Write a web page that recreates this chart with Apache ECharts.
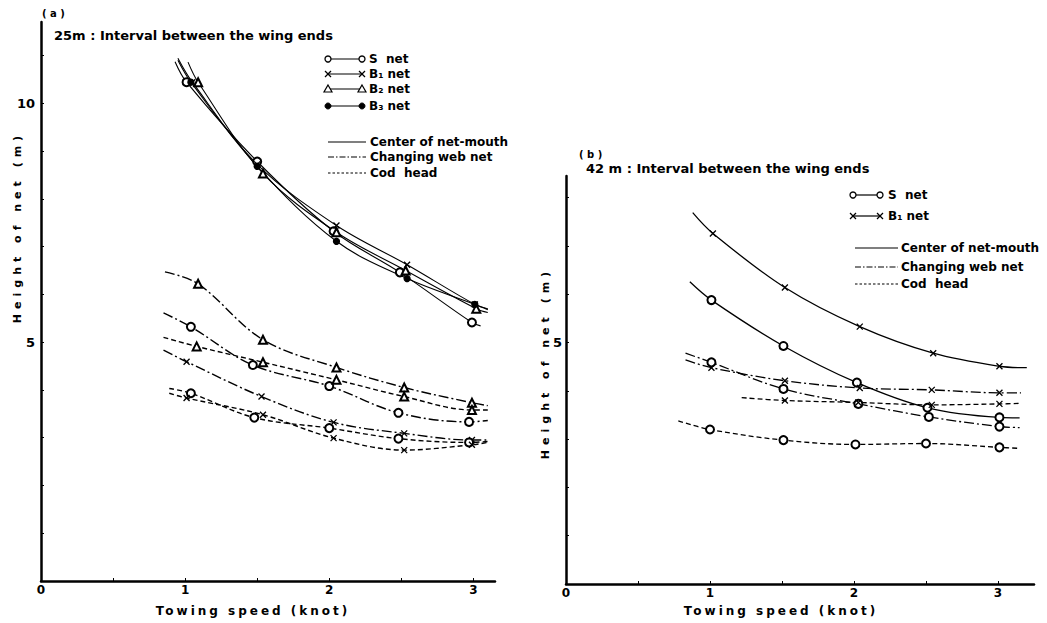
<!DOCTYPE html>
<html>
<head>
<meta charset="utf-8">
<script src="https://cdn.jsdelivr.net/npm/echarts@6/dist/echarts.min.js"></script>
<style>
html,body{margin:0;padding:0;background:#fff;}
#c{width:1047px;height:623px;}
</style>
</head>
<body>
<div id="c"></div>
<script>
// ================= DATA =================
// tick labels
const xTickLabels = ['0', '1', '2', '3'];
const yTickLabelsA = ['5', '10'];
const yTickLabelsB = ['5'];

// ---- Panel (a): 25 m interval between the wing ends ----
// Center of net-mouth (solid)
const a_S_mouth_x  = [1.01, 1.50, 2.03, 2.49, 2.99];
const a_S_mouth_y  = [10.44, 8.78, 7.32, 6.46, 5.41];
const a_S_mouth_ends = [[0.93, 10.87], [3.05, 5.34]];
const a_B1_mouth_x = [1.05, 1.50, 2.05, 2.54, 3.01];
const a_B1_mouth_y = [10.44, 8.72, 7.44, 6.62, 5.79];
const a_B1_mouth_ends = [[0.95, 10.94], [3.10, 5.70]];
const a_B2_mouth_x = [1.09, 1.54, 2.05, 2.53, 3.02];
const a_B2_mouth_y = [10.44, 8.53, 7.30, 6.50, 5.70];
const a_B2_mouth_ends = [[1.02, 10.86], [3.10, 5.62]];
const a_B3_mouth_x = [1.04, 1.50, 2.05, 2.54, 3.01];
const a_B3_mouth_y = [10.44, 8.68, 7.11, 6.33, 5.79];
const a_B3_mouth_ends = [[0.95, 10.90], [3.10, 5.68]];
// Changing web net (dash-dot)
const a_B2_web_x = [1.09, 1.54, 2.05, 2.52, 2.99];
const a_B2_web_y = [6.22, 5.05, 4.47, 4.05, 3.73];
const a_B2_web_ends = [[0.86, 6.47], [3.10, 3.67]];
const a_S_web_x  = [1.04, 1.47, 2.00, 2.48, 2.97];
const a_S_web_y  = [5.32, 4.52, 4.08, 3.52, 3.33];
const a_S_web_ends = [[0.85, 5.61], [3.10, 3.36]];
const a_B1_web_x = [1.01, 1.53, 2.03, 2.52, 2.99];
const a_B1_web_y = [4.59, 3.86, 3.32, 3.09, 2.95];
const a_B1_web_ends = [[0.85, 4.83], [3.10, 2.95]];
// Cod head (dashed)
const a_B2_cod_x = [1.08, 1.54, 2.05, 2.52, 2.99];
const a_B2_cod_y = [4.91, 4.58, 4.21, 3.86, 3.58];
const a_B2_cod_ends = [[0.85, 5.10], [3.10, 3.58]];
const a_S_cod_x  = [1.04, 1.48, 2.00, 2.48, 2.97];
const a_S_cod_y  = [3.93, 3.42, 3.20, 2.98, 2.90];
const a_S_cod_ends = [[0.89, 4.03], [3.10, 2.92]];
const a_B1_cod_x = [1.01, 1.54, 2.03, 2.52, 2.99];
const a_B1_cod_y = [3.83, 3.48, 2.99, 2.74, 2.85];
const a_B1_cod_ends = [[0.89, 3.93], [3.10, 2.90]];

// ---- Panel (b): 42 m interval between the wing ends ----
const b_S_mouth_x  = [1.01, 1.51, 2.02, 2.51, 3.01];
const b_S_mouth_y  = [5.88, 4.93, 4.17, 3.65, 3.45];
const b_S_mouth_ends = [[0.86, 6.26], [3.15, 3.44]];
const b_B1_mouth_x = [1.02, 1.52, 2.04, 2.55, 3.01];
const b_B1_mouth_y = [7.26, 6.14, 5.33, 4.78, 4.51];
const b_B1_mouth_ends = [[0.88, 7.69], [3.20, 4.48]];
const b_S_web_x  = [1.01, 1.51, 2.03, 2.52, 3.01];
const b_S_web_y  = [4.59, 4.04, 3.73, 3.46, 3.26];
const b_S_web_ends = [[0.83, 4.78], [3.15, 3.24]];
const b_B1_web_x = [1.01, 1.52, 2.04, 2.54, 3.01];
const b_B1_web_y = [4.48, 4.21, 4.06, 4.02, 3.96];
const b_B1_web_ends = [[0.83, 4.64], [3.16, 3.96]];
const b_S_cod_x  = [1.00, 1.51, 2.01, 2.50, 3.01];
const b_S_cod_y  = [3.20, 2.98, 2.89, 2.91, 2.83];
const b_S_cod_ends = [[0.78, 3.38], [3.14, 2.81]];
const b_B1_cod_x = [1.52, 2.03, 2.54, 3.01];
const b_B1_cod_y = [3.80, 3.76, 3.71, 3.73];
const b_B1_cod_ends = [[1.22, 3.86], [3.15, 3.74]];

// text
const titleA = '25m : Interval between the wing ends';
const titleB = '42 m : Interval between the wing ends';
const panelA = '( a )';
const panelB = '( b )';
const xName = 'Towing speed (knot)';
const yName = 'Height of net (m)';
const legendNets = ['S  net', 'B\u2081 net', 'B\u2082 net', 'B\u2083 net'];
const legendParts = ['Center of net-mouth', 'Changing web net', 'Cod  head'];

// ================= STYLE =================
const FONT = '"DejaVu Sans", "Liberation Sans", sans-serif';
const DASH_WEB = [10, 3, 2, 3];
const DASH_COD = [5, 3];
const SYM = {
  o: {symbol: 'emptyCircle', size: 8, fill: '#000'},
  x: {symbol: 'path://M0,0L10,10M10,0L0,10', size: 6, fill: 'none'},
  t: {symbol: 'emptyTriangle', size: 8, fill: '#000'},
  d: {symbol: 'circle', size: 6, fill: '#000'}
};

function curve(name, xs, ys, ends, g, symKey, dash, width) {
  const s = SYM[symKey];
  const data = [{value: ends[0], symbol: 'none'}];
  xs.forEach((x, i) => data.push([x, ys[i]]));
  data.push({value: ends[1], symbol: 'none'});
  return {
    type: 'line', name: name, xAxisIndex: g, yAxisIndex: g,
    data: data, smooth: 0.35, symbol: s.symbol, symbolSize: s.size,
    showSymbol: true, showAllSymbol: true, animation: false, silent: true,
    lineStyle: {color: '#000', width: width, type: dash},
    itemStyle: {color: s.fill === 'none' ? '#000' : s.fill, borderColor: '#000', borderWidth: 1.3}
  };
}

const series = [
  curve('a S mouth', a_S_mouth_x, a_S_mouth_y, a_S_mouth_ends, 0, 'o', 'solid', 1.1),
  curve('a B1 mouth', a_B1_mouth_x, a_B1_mouth_y, a_B1_mouth_ends, 0, 'x', 'solid', 1.1),
  curve('a B2 mouth', a_B2_mouth_x, a_B2_mouth_y, a_B2_mouth_ends, 0, 't', 'solid', 1.1),
  curve('a B3 mouth', a_B3_mouth_x, a_B3_mouth_y, a_B3_mouth_ends, 0, 'd', 'solid', 1.1),
  curve('a B2 web', a_B2_web_x, a_B2_web_y, a_B2_web_ends, 0, 't', DASH_WEB, 1.4),
  curve('a S web', a_S_web_x, a_S_web_y, a_S_web_ends, 0, 'o', DASH_WEB, 1.4),
  curve('a B1 web', a_B1_web_x, a_B1_web_y, a_B1_web_ends, 0, 'x', DASH_WEB, 1.4),
  curve('a B2 cod', a_B2_cod_x, a_B2_cod_y, a_B2_cod_ends, 0, 't', DASH_COD, 1.4),
  curve('a S cod', a_S_cod_x, a_S_cod_y, a_S_cod_ends, 0, 'o', DASH_COD, 1.4),
  curve('a B1 cod', a_B1_cod_x, a_B1_cod_y, a_B1_cod_ends, 0, 'x', DASH_COD, 1.4),
  curve('b S mouth', b_S_mouth_x, b_S_mouth_y, b_S_mouth_ends, 1, 'o', 'solid', 1.3),
  curve('b B1 mouth', b_B1_mouth_x, b_B1_mouth_y, b_B1_mouth_ends, 1, 'x', 'solid', 1.3),
  curve('b S web', b_S_web_x, b_S_web_y, b_S_web_ends, 1, 'o', DASH_WEB, 1.3),
  curve('b B1 web', b_B1_web_x, b_B1_web_y, b_B1_web_ends, 1, 'x', DASH_WEB, 1.3),
  curve('b S cod', b_S_cod_x, b_S_cod_y, b_S_cod_ends, 1, 'o', DASH_COD, 1.3),
  curve('b B1 cod', b_B1_cod_x, b_B1_cod_y, b_B1_cod_ends, 1, 'x', DASH_COD, 1.3)
];

function xAxis(g, max) {
  return {
    type: 'value', gridIndex: g, min: 0, max: max, interval: 0.5,
    axisLine: {show: true, onZero: false, lineStyle: {color: '#000', width: 2.5}},
    axisTick: {show: true, inside: true, length: 3, lineStyle: {color: '#000', width: 1}},
    splitLine: {show: false},
    axisLabel: {
      show: true, margin: 3, color: '#000', fontFamily: FONT, fontWeight: 'bold', fontSize: 12,
      showMaxLabel: false,
      formatter: v => xTickLabels.indexOf(String(v)) >= 0 ? String(v) : ''
    }
  };
}
function yAxis(g, max, labels, margin) {
  return {
    type: 'value', gridIndex: g, min: 0, max: max, interval: 1,
    axisLine: {show: true, onZero: false, lineStyle: {color: '#000', width: 2.5}},
    axisTick: {show: true, inside: true, length: 3, lineStyle: {color: '#000', width: 1}},
    splitLine: {show: false},
    axisLabel: {
      show: true, margin: margin, color: '#000', fontFamily: FONT, fontWeight: 'bold', fontSize: 13,
      showMaxLabel: false,
      formatter: v => labels.indexOf(String(v)) >= 0 ? String(v) : ''
    }
  };
}

// legend graphics (drawn as small glyph + text)
function marker(k, x, y) {
  const st = {stroke: '#000', lineWidth: 1.3};
  if (k === 'o') return [{type: 'circle', shape: {cx: x, cy: y, r: 3}, style: {fill: '#fff', stroke: '#000', lineWidth: 1.3}}];
  if (k === 'd') return [{type: 'circle', shape: {cx: x, cy: y, r: 3}, style: {fill: '#000', stroke: '#000', lineWidth: 1}}];
  if (k === 't') return [{type: 'polygon', shape: {points: [[x, y - 4], [x + 4, y + 3], [x - 4, y + 3]]}, style: {fill: '#fff', stroke: '#000', lineWidth: 1.2}}];
  return [
    {type: 'line', shape: {x1: x - 3, y1: y - 3, x2: x + 3, y2: y + 3}, style: st},
    {type: 'line', shape: {x1: x + 3, y1: y - 3, x2: x - 3, y2: y + 3}, style: st}
  ];
}
function txt(t, x, y, size, align, extra) {
  return Object.assign({
    type: 'text', x: x, y: y, silent: true,
    style: {text: t, fill: '#000', font: 'bold ' + size + 'px ' + FONT,
            align: align || 'left', verticalAlign: 'middle',
            textAlign: align || 'left', textVerticalAlign: 'middle'}
  }, extra || {});
}
function netLegend(x1, x2, tx, rows, keys) {
  let out = [];
  rows.forEach((y, i) => {
    out.push({type: 'line', shape: {x1: x1, y1: y, x2: x2, y2: y}, style: {stroke: '#000', lineWidth: 1.2}});
    out = out.concat(marker(keys[i], x1, y), marker(keys[i], x2, y));
    out.push(txt(legendNets[i], tx, y, 12));
  });
  return out;
}
function partLegend(x1, x2, tx, rows) {
  const dashes = ['solid', [6, 2, 1.5, 2], [2.5, 2]];
  const out = [];
  rows.forEach((y, i) => {
    out.push({type: 'line', shape: {x1: x1, y1: y, x2: x2, y2: y}, style: {stroke: '#000', lineWidth: 1.2, lineDash: dashes[i] === 'solid' ? null : dashes[i]}});
    out.push(txt(legendParts[i], tx, y, 12));
  });
  return out;
}

let graphics = [];
graphics.push(txt(panelA, 42, 13, 10));
graphics.push(txt(titleA, 54, 35, 13));
graphics.push(txt(panelB, 579, 154, 10));
graphics.push(txt(titleB, 586, 168, 13));
graphics = graphics.concat(netLegend(328, 362, 369, [59, 74, 89, 106], ['o', 'x', 't', 'd']));
graphics = graphics.concat(partLegend(328, 366, 370, [142, 157, 173]));
graphics = graphics.concat(netLegend(853, 880, 888, [195, 216], ['o', 'x']));
graphics = graphics.concat(partLegend(855, 898, 901, [248, 267, 284]));
graphics.push(txt(xName, 253, 611, 12, 'center'));
graphics.push(txt(xName, 781, 611, 12, 'center'));
graphics.push(txt(yName, 17, 227, 11, 'center', {rotation: Math.PI / 2}));
graphics.push(txt(yName, 545, 363, 11, 'center', {rotation: Math.PI / 2}));

const option = {
  animation: false,
  backgroundColor: '#fff',
  grid: [
    {left: 41, top: 22, width: 454, height: 559},
    {left: 566, top: 176, width: 468, height: 408}
  ],
  xAxis: [xAxis(0, 3.15), xAxis(1, 3.25)],
  yAxis: [yAxis(0, 11.7, yTickLabelsA, 6), yAxis(1, 8.45, yTickLabelsB, 4)],
  series: series,
  graphic: graphics
};

const chart = echarts.init(document.getElementById('c'), null, {renderer: 'svg'});
chart.setOption(option);

function spaceNames() {
  const texts = document.querySelectorAll('#c svg text');
  texts.forEach(t => {
    const s = t.textContent;
    if (s === xName) t.setAttribute('letter-spacing', '3');
    if (s === yName) t.setAttribute('letter-spacing', '5');
  });
}
spaceNames();
chart.on('finished', spaceNames);
setTimeout(spaceNames, 50);
</script>
</body>
</html>
